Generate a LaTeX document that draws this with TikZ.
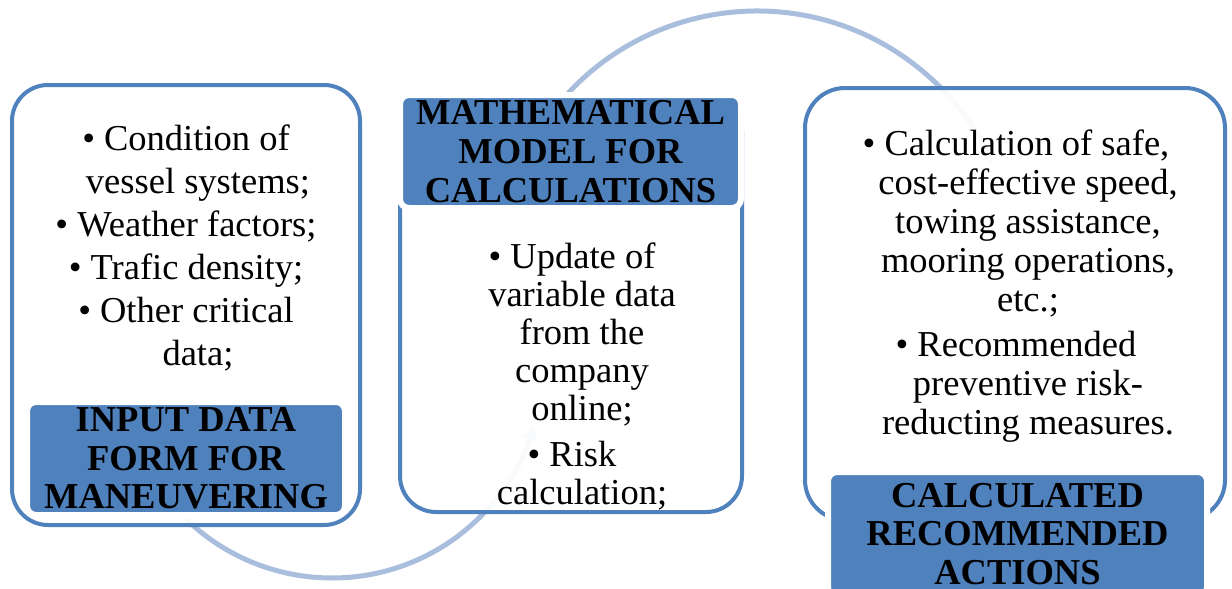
\documentclass[tikz,border=0pt]{standalone}
\usepackage{fontspec}
\setmainfont{Liberation Serif}
\usetikzlibrary{arrows.meta}
\definecolor{accent}{HTML}{4F81BD}
\definecolor{flow}{HTML}{A9BEDC}

\begin{document}
\begin{tikzpicture}[x=1pt,y=-1pt,
  panel/.style={draw=accent, line width=4pt, rounded corners=36pt,
    fill=white, fill opacity=0.93, inner sep=0pt},
  tag/.style={fill=accent, draw=white, line width=6pt, rounded corners=9pt,
    inner sep=0pt, align=center, text=black,
    font=\bfseries\fontsize{36.5}{38.6}\selectfont},
  body/.style={anchor=north, inner sep=0pt, align=center,
    font=\fontsize{36.5}{39}\selectfont},
  flowline/.style={draw=flow, line width=5pt, -{Stealth[length=16pt,width=18pt]}}]

\useasboundingbox (0,0) rectangle (1232,589);
\clip (0,0) rectangle (1232,589);

% centres of the two sweeping arcs
\coordinate (lowc) at (332,368);
\coordinate (topc) at (757,269);

% sweeping arcs behind the panels
\draw[flowline] ([shift={(138:210)}]lowc) arc[start angle=138, end angle=16, radius=210];
\draw[flowline] ([shift={(215:258)}]topc) arc[start angle=215, end angle=336, radius=258];

% panels
\node[panel, minimum width=348pt, minimum height=440pt] (inbox) at (186,305) {};
\node[panel, minimum width=342pt, minimum height=417pt] (mathbox) at (571,303.5) {};
\node[panel, rounded corners=40pt, minimum width=420pt, minimum height=432pt] (actbox) at (1015,304) {};

% panel titles
\node[tag, minimum width=318pt, minimum height=113pt] (intag) at (186,458.5)
  {INPUT DATA\\FORM FOR\\MANEUVERING};
\node[tag, minimum width=341pt, minimum height=113pt] (mathtag) at (570.5,151.5)
  {MATHEMATICAL\\MODEL FOR\\CALCULATIONS};
\node[tag, minimum width=379pt, minimum height=124pt] (acttag) at (1017.5,534)
  {CALCULATED\\RECOMMENDED\\ACTIONS};

% panel contents
\node[body, font=\fontsize{36.5}{43}\selectfont] (intext) at (186,125)
  {• Condition of\\
   \hspace*{24pt}vessel systems;\\
   • Weather factors;\\
   • Trafic density;\\
   • Other critical\\
   \hspace*{24pt}data;};

\node[body, font=\fontsize{36.5}{38}\selectfont] (mathtext) at (572,243)
  {• Update of\\
   \hspace*{20pt}variable data\\
   \hspace*{20pt}from the\\
   \hspace*{20pt}company\\
   \hspace*{20pt}online;\\[8pt]
   • Risk\\
   \hspace*{20pt}calculation;};

\node[body] (acttext) at (1016,130)
  {• Calculation of safe,\\
   \hspace*{24pt}cost-effective speed,\\
   \hspace*{24pt}towing assistance,\\
   \hspace*{24pt}mooring operations,\\
   \hspace*{24pt}etc.;\\[6pt]
   • Recommended\\
   \hspace*{24pt}preventive risk-\\
   \hspace*{24pt}reducting measures.};
\end{tikzpicture}
\end{document}
